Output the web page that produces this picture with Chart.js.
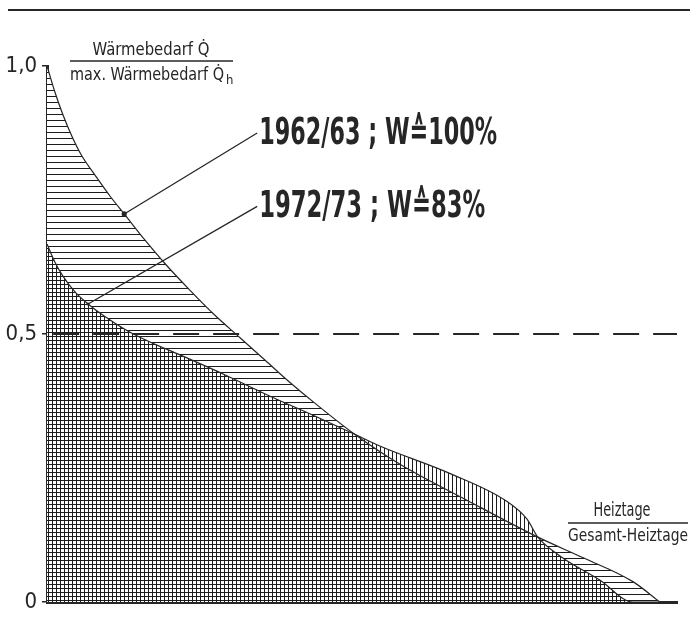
<!DOCTYPE html>
<html>
<head>
<meta charset="utf-8">
<script src="https://cdn.jsdelivr.net/npm/chart.js@4"></script>
<style>
  html, body { margin: 0; padding: 0; background: #fff; }
  canvas { display: block; }
</style>
</head>
<body>
<canvas id="chart" width="694" height="623"></canvas>
<script>
// Heizlast-Dauerlinien, values (x = Heiztage / Gesamt-Heiztage)
const heiztage6263 = [0, 0.013, 0.026, 0.041, 0.057, 0.078, 0.103, 0.126, 0.160, 0.192, 0.233, 0.274, 0.315, 0.356, 0.396, 0.437, 0.502, 0.576, 0.685, 0.801, 0.874, 0.956, 1.0];
const bedarf6263 = [1.0, 0.951, 0.909, 0.868, 0.832, 0.797, 0.757, 0.724, 0.675, 0.632, 0.582, 0.535, 0.493, 0.451, 0.410, 0.371, 0.313, 0.257, 0.190, 0.121, 0.083, 0.038, 0];

const heiztage7273 = [0, 0.013, 0.026, 0.046, 0.067, 0.095, 0.131, 0.168, 0.217, 0.290, 0.364, 0.437, 0.502, 0.543, 0.657, 0.750, 0.783, 0.801, 0.837, 0.902, 0.956, 1.0];
const bedarf7273 = [0.668, 0.634, 0.608, 0.578, 0.556, 0.532, 0.506, 0.485, 0.461, 0.424, 0.384, 0.347, 0.313, 0.291, 0.240, 0.188, 0.155, 0.121, 0.086, 0.041, 0, 0];

const refLineX = [0.01, 1.03];
const refLineY = [0.5, 0.5];

const yTicks = [0, 0.5, 1];

// annotation labels: text, point on curve, text anchor (data units)
const labelTexts = ["1962/63 ; W\u2259100%", "1972/73 ; W\u225983%"];
const labelPointX = [0.126, 0.067];
const labelPointY = [0.724, 0.556];
const labelAnchorX = [0.343, 0.343];
const labelAnchorY = [0.875, 0.738];
const labelWidths = [238, 226];

const FONT = "'Liberation Sans Narrow', 'DejaVu Sans Condensed', 'DejaVu Sans', sans-serif";
const INK = "#262626";

const canvas = document.getElementById("chart");
const ctx = canvas.getContext("2d");

const makeHatch = (w, h, drawTile) => {
    const c = document.createElement("canvas");
    c.width = w;
    c.height = h;
    const g = c.getContext("2d");
    g.fillStyle = "#fff";
    g.fillRect(0, 0, w, h);
    g.fillStyle = "#1c1c1c";
    drawTile(g);
    return ctx.createPattern(c, "repeat");
};

const crossHatch = makeHatch(4, 4, (g) => {
    g.fillRect(0, 0, 1, 4);
    g.fillRect(0, 0, 4, 1);
});
const horizHatch = makeHatch(4, 6, (g) => g.fillRect(0, 0, 4, 1));
const vertHatch = makeHatch(4, 4, (g) => g.fillRect(0, 0, 1, 4));

const toPoints = (xs, ys) => xs.map((x, i) => ({ x: x, y: ys[i] }));

// draw text squeezed/stretched to a given width
const fitText = (c, text, x, y, width, align) => {
    const m = c.measureText(text).width;
    const s = width / m;
    c.save();
    c.translate(align === "center" ? x - width / 2 : x, y);
    c.scale(s, 1);
    c.textAlign = "left";
    c.fillText(text, 0, 0);
    c.restore();
};

const decorations = {
    id: "decorations",
    afterDraw(chart) {
        const c = chart.ctx;
        const xs = chart.scales.x;
        const ys = chart.scales.y;
        c.save();
        c.strokeStyle = INK;
        c.fillStyle = INK;
        c.textBaseline = "alphabetic";

        // top rule
        c.lineWidth = 2;
        c.beginPath();
        c.moveTo(8, 10);
        c.lineTo(690, 10);
        c.stroke();

        // y axis title (fraction)
        c.font = "18px " + FONT;
        fitText(c, "Wärmebedarf Q\u0307", 151, 55, 117, "center");
        c.lineWidth = 1.4;
        c.beginPath();
        c.moveTo(70, 61);
        c.lineTo(233, 61);
        c.stroke();
        fitText(c, "max. Wärmebedarf Q\u0307", 70, 80, 154, "left");
        c.font = "13px " + FONT;
        c.fillText("h", 226, 84);

        // x axis title (fraction)
        c.font = "19px " + FONT;
        fitText(c, "Heiztage", 622, 516, 57, "center");
        c.beginPath();
        c.moveTo(568, 523);
        c.lineTo(688, 523);
        c.stroke();
        c.font = "18px " + FONT;
        fitText(c, "Gesamt-Heiztage", 568, 541, 120, "left");

        // leader lines and labels
        c.font = "bold 38px " + FONT;
        labelTexts.forEach((t, i) => {
            const px = xs.getPixelForValue(labelPointX[i]);
            const py = ys.getPixelForValue(labelPointY[i]);
            const ax = xs.getPixelForValue(labelAnchorX[i]);
            const ay = ys.getPixelForValue(labelAnchorY[i]);
            c.lineWidth = 1.3;
            c.beginPath();
            c.moveTo(px, py);
            c.lineTo(ax, ay);
            c.stroke();
            c.beginPath();
            c.arc(px, py, i === 0 ? 2.6 : 1.6, 0, Math.PI * 2);
            c.fill();
            fitText(c, t, ax + 2, ay + 11, labelWidths[i], "left");
        });
        c.restore();
    },
};

const chartConfig = {
    type: "line",
    data: {
        datasets: [
            {
                label: "1972/73",
                data: toPoints(heiztage7273, bedarf7273),
                borderColor: INK,
                borderWidth: 1.2,
                pointRadius: 0,
                cubicInterpolationMode: "monotone",
                fill: { target: 1, above: vertHatch, below: horizHatch },
            },
            {
                label: "1962/63",
                data: toPoints(heiztage6263, bedarf6263),
                borderColor: INK,
                borderWidth: 1.2,
                pointRadius: 0,
                cubicInterpolationMode: "monotone",
                backgroundColor: crossHatch,
                fill: "origin",
            },
            {
                label: "0,5",
                data: toPoints(refLineX, refLineY),
                borderColor: INK,
                borderWidth: 2,
                borderDash: [26, 14],
                pointRadius: 0,
                fill: false,
                order: -1,
            },
        ],
    },
    options: {
        responsive: false,
        animation: false,
        events: [],
        layout: {
            padding: { top: 66, bottom: 21, left: 0, right: 17 },
        },
        scales: {
            x: {
                type: "linear",
                min: 0,
                max: 1.028,
                grid: { display: false },
                ticks: { display: false },
                border: { display: true, color: INK, width: 3 },
                afterFit: (s) => {
                    s.height = 0;
                },
            },
            y: {
                type: "linear",
                min: 0,
                max: 1,
                afterBuildTicks: (s) => {
                    s.ticks = yTicks.map((v) => ({ value: v }));
                },
                afterFit: (s) => {
                    s.width = 47;
                },
                grid: {
                    display: true,
                    drawOnChartArea: false,
                    drawTicks: true,
                    tickLength: 5,
                    color: INK,
                    lineWidth: 1.5,
                },
                border: { display: true, color: INK, width: 3 },
                ticks: {
                    padding: 5,
                    color: INK,
                    font: { family: FONT, size: 22 },
                    callback: (v) => (v === 0 ? "0" : v.toFixed(1).replace(".", ",")),
                },
            },
        },
        plugins: {
            legend: { display: false },
            tooltip: { enabled: false },
            filler: { drawTime: "beforeDatasetsDraw" },
        },
    },
    plugins: [decorations],
};

new Chart(ctx, chartConfig);
</script>
</body>
</html>
